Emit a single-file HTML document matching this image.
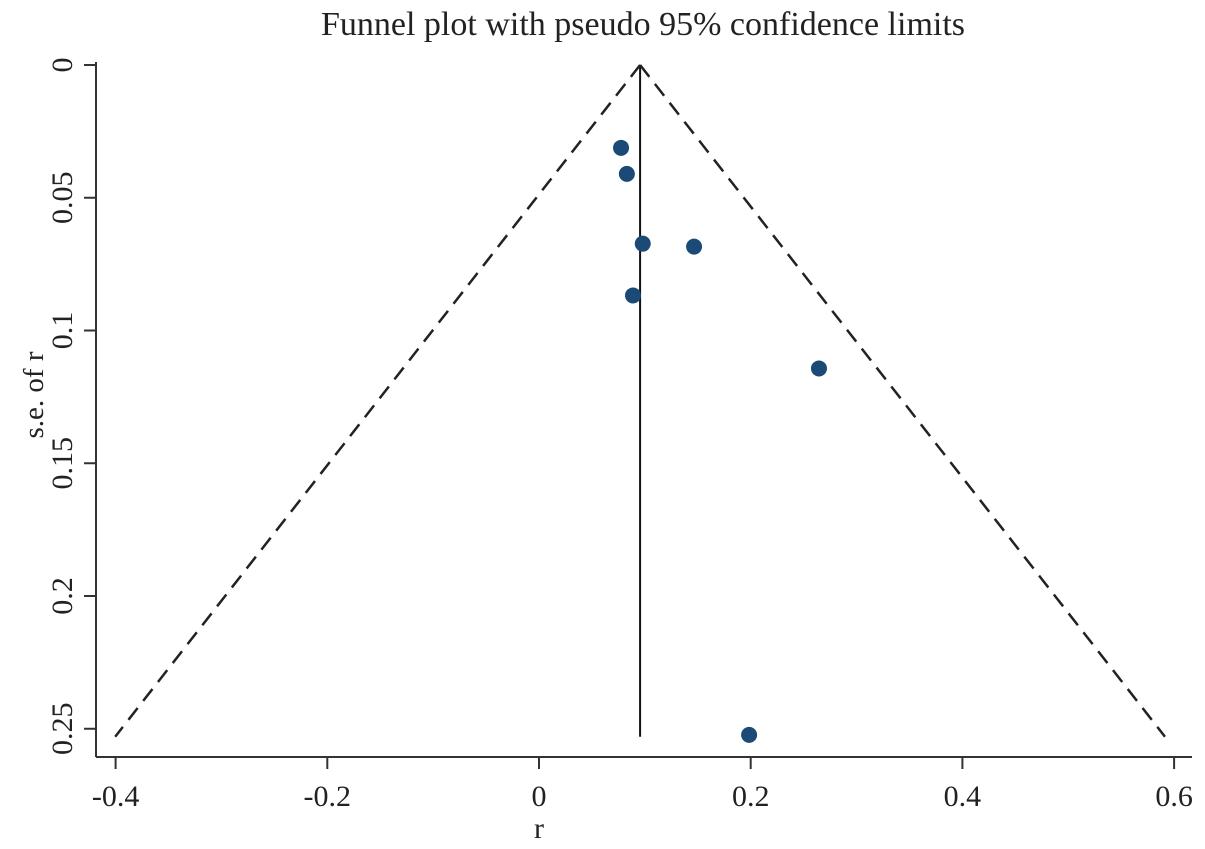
<!DOCTYPE html>
<html><head><meta charset="utf-8"><style>
html,body{margin:0;padding:0;background:#fff;}
svg{display:block;font-family:"Liberation Serif",serif;}
</style></head><body>
<svg id="chart" width="1205" height="849" viewBox="0 0 1205 849">
<rect width="1205" height="849" fill="#fff"/>
<text x="643" y="35" font-size="34" text-anchor="middle" fill="#222">Funnel plot with pseudo 95% confidence limits</text>
<g id="axes"></g>
<g id="marks"></g>
</svg>
<script>
const xTicks=[-0.4,-0.2,0,0.2,0.4,0.6];
const xTickLabels=["-0.4","-0.2","0","0.2","0.4","0.6"];
const yTicks=[0,0.05,0.1,0.15,0.2,0.25];
const yTickLabels=["0","0.05","0.1","0.15","0.2","0.25"];
const studyR=[0.0775,0.083,0.098,0.1465,0.0888,0.2645,0.1985];
const studySE=[0.0312,0.041,0.0673,0.0684,0.0868,0.1143,0.2523];
const pooledR=0.0955;
const maxSE=0.253;
const NS="http://www.w3.org/2000/svg";
const X=r=>539+r*1058.5;
const Y=s=>65+s*2655;
const axes=document.getElementById('axes'),marks=document.getElementById('marks');
function mk(tag,attrs,parent,text){const e=document.createElementNS(NS,tag);for(const k in attrs)e.setAttribute(k,attrs[k]);if(text!==undefined)e.textContent=text;parent.appendChild(e);return e;}
let e=mk('line',{x1:96,y1:757,x2:1192,y2:757,stroke:'#333','stroke-width':2},axes);


e=mk('line',{x1:96,y1:Y(0)-3,x2:96,y2:757,stroke:'#333','stroke-width':2},axes);


xTicks.forEach((t,i)=>{
 let l=mk('line',{x1:X(t),y1:757,x2:X(t),y2:769,stroke:'#333','stroke-width':2},axes);
 
 
 let tx=mk('text',{x:X(t),y:806,'font-size':30,'text-anchor':'middle',fill:'#222'},axes,xTickLabels[i]);
 
 
});
yTicks.forEach((t,i)=>{
 let l=mk('line',{x1:84,y1:Y(t),x2:96,y2:Y(t),stroke:'#333','stroke-width':2},axes);
 
 
 let tx=mk('text',{x:0,y:0,'font-size':30,'text-anchor':'middle',fill:'#222',transform:`translate(72,${Y(t)}) rotate(-90)`},axes,yTickLabels[i]);
 
 
});
e=mk('text',{x:539,y:838,'font-size':30,'text-anchor':'middle',fill:'#222'},axes,'r');


e=mk('text',{x:0,y:0,'font-size':29,'text-anchor':'middle',fill:'#222',transform:'translate(43,395) rotate(-90)'},axes,'s.e. of r');


e=mk('line',{x1:X(pooledR),y1:Y(0),x2:X(pooledR),y2:Y(maxSE),stroke:'#111','stroke-width':2},marks);


e=mk('line',{x1:X(pooledR),y1:Y(0),x2:X(pooledR-1.96*maxSE),y2:Y(maxSE),stroke:'#222','stroke-width':2.5,'stroke-dasharray':'15,9'},marks);


e=mk('line',{x1:X(pooledR),y1:Y(0),x2:X(pooledR+1.96*maxSE),y2:Y(maxSE),stroke:'#222','stroke-width':2.5,'stroke-dasharray':'15,9'},marks);


studyR.forEach((r,i)=>{
 let c=mk('circle',{cx:X(r),cy:Y(studySE[i]),r:8,fill:'#1a4a75'},marks);
 
 
});
</script>
</body></html>
